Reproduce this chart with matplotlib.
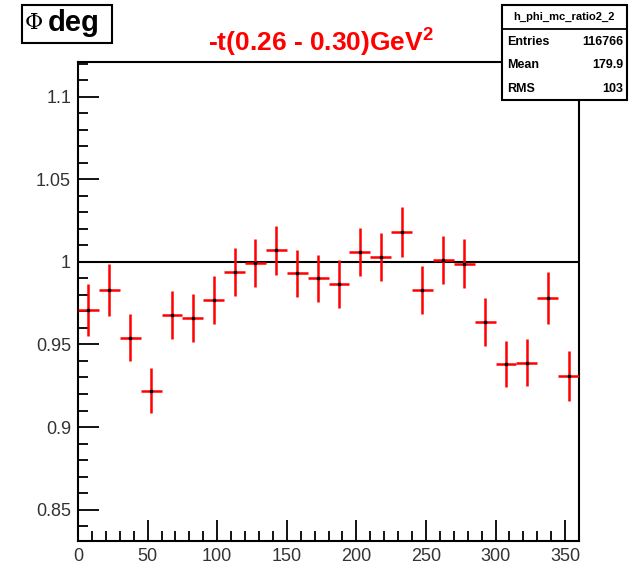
import numpy as np
import matplotlib
matplotlib.use("Agg")
import matplotlib.pyplot as plt
from matplotlib.patches import Rectangle
from matplotlib.ticker import MultipleLocator

plt.rcParams['font.family'] = ['Liberation Sans', 'DejaVu Sans']
plt.rcParams['mathtext.fontset'] = 'custom'
plt.rcParams['mathtext.rm'] = 'Liberation Sans'
plt.rcParams['mathtext.bf'] = 'Liberation Sans:bold'

# phi bins (deg) and MC ratio per bin
phi_centers = np.arange(7.5, 360, 15)
ratio = [0.971, 0.983, 0.954, 0.922, 0.968, 0.966, 0.977, 0.994,
         0.9995, 1.007, 0.993, 0.990, 0.9865, 1.006, 1.003, 1.018,
         0.983, 1.001, 0.999, 0.9635, 0.938, 0.939, 0.978, 0.931]
ratio_err = [0.0157, 0.0155, 0.0142, 0.0137, 0.0145, 0.0143, 0.0144, 0.0144,
             0.0145, 0.0147, 0.0143, 0.0140, 0.0145, 0.0143, 0.0143, 0.0152,
             0.0147, 0.0144, 0.0150, 0.0144, 0.0138, 0.0144, 0.0157, 0.0150]
bin_half = 7.5

hist_name = "h_phi_mc_ratio2_2"
stats = [("Entries", "116766"), ("Mean", "179.9"), ("RMS", "103")]

W, H = 636, 568
fig = plt.figure(figsize=(W / 100, H / 100), dpi=100)
ax = fig.add_axes([78 / W, 1 - 541 / H, (579 - 78) / W, (541 - 62) / H])

ax.errorbar(phi_centers, ratio, yerr=ratio_err, xerr=bin_half, fmt='none',
            ecolor='red', elinewidth=1.8, capsize=0, zorder=3)
ax.plot(phi_centers, ratio, 's', color='black', markersize=1.5, zorder=4)
ax.axhline(1.0, color='black', lw=1.5, zorder=2)

ax.set_xlim(0, 360)
ax.set_ylim(0.831, 1.121)
ax.xaxis.set_major_locator(MultipleLocator(50))
ax.xaxis.set_minor_locator(MultipleLocator(10))
ax.yaxis.set_major_locator(MultipleLocator(0.05))
ax.yaxis.set_minor_locator(MultipleLocator(0.01))
ax.set_yticks([0.85, 0.9, 0.95, 1.0, 1.05, 1.1])
ax.set_yticklabels(["0.85", "0.9", "0.95", "1", "1.05", "1.1"])
ax.tick_params(which='both', direction='in', width=1.3, labelsize=13,
               labelcolor='#333333', top=False, right=False)
ax.tick_params(which='major', length=15, pad=5)
ax.tick_params(which='minor', length=7)
for s in ax.spines.values():
    s.set_linewidth(1.5)

fig.text(321 / W, 1 - 42 / H, "-t(0.26 - 0.30)GeV$^{\\mathbf{2}}$",
         color='red', fontsize=19, fontweight='bold', ha='center', va='center')

# title box
fig.patches.append(Rectangle((22 / W, 1 - 43 / H), 90 / W, 38 / H,
                             transform=fig.transFigure, fill=True,
                             facecolor='white', edgecolor='black', lw=1.5))
fig.text(25 / W, 1 - 23 / H, "Φ", fontsize=16, family='DejaVu Serif',
         va='center', ha='left')
fig.text(48 / W, 1 - 23 / H, "deg", fontsize=21, fontweight='bold',
         va='center', ha='left')

# stats box
bx0, bx1, by0, by1 = 502, 627, 5, 100
fig.patches.append(Rectangle((bx0 / W, 1 - by1 / H), (bx1 - bx0) / W,
                             (by1 - by0) / H, transform=fig.transFigure,
                             facecolor='white', edgecolor='black', lw=1.5,
                             zorder=5))
fig.add_artist(plt.Line2D([bx0 / W, bx1 / W], [1 - 29 / H, 1 - 29 / H],
                          transform=fig.transFigure, color='black', lw=1.3,
                          zorder=6))
fig.text((bx0 + bx1) / 2 / W, 1 - 17 / H, hist_name, fontsize=8,
         fontweight='bold', ha='center', va='center', zorder=7)
for i, (k, v) in enumerate(stats):
    y = 1 - (42 + 23.5 * i) / H
    fig.text((bx0 + 5) / W, y, k, fontsize=9, fontweight='bold',
             ha='left', va='center', zorder=7)
    fig.text((bx1 - 4) / W, y, v, fontsize=9, fontweight='bold',
             ha='right', va='center', zorder=7)

fig.savefig("out.png", dpi=100)
